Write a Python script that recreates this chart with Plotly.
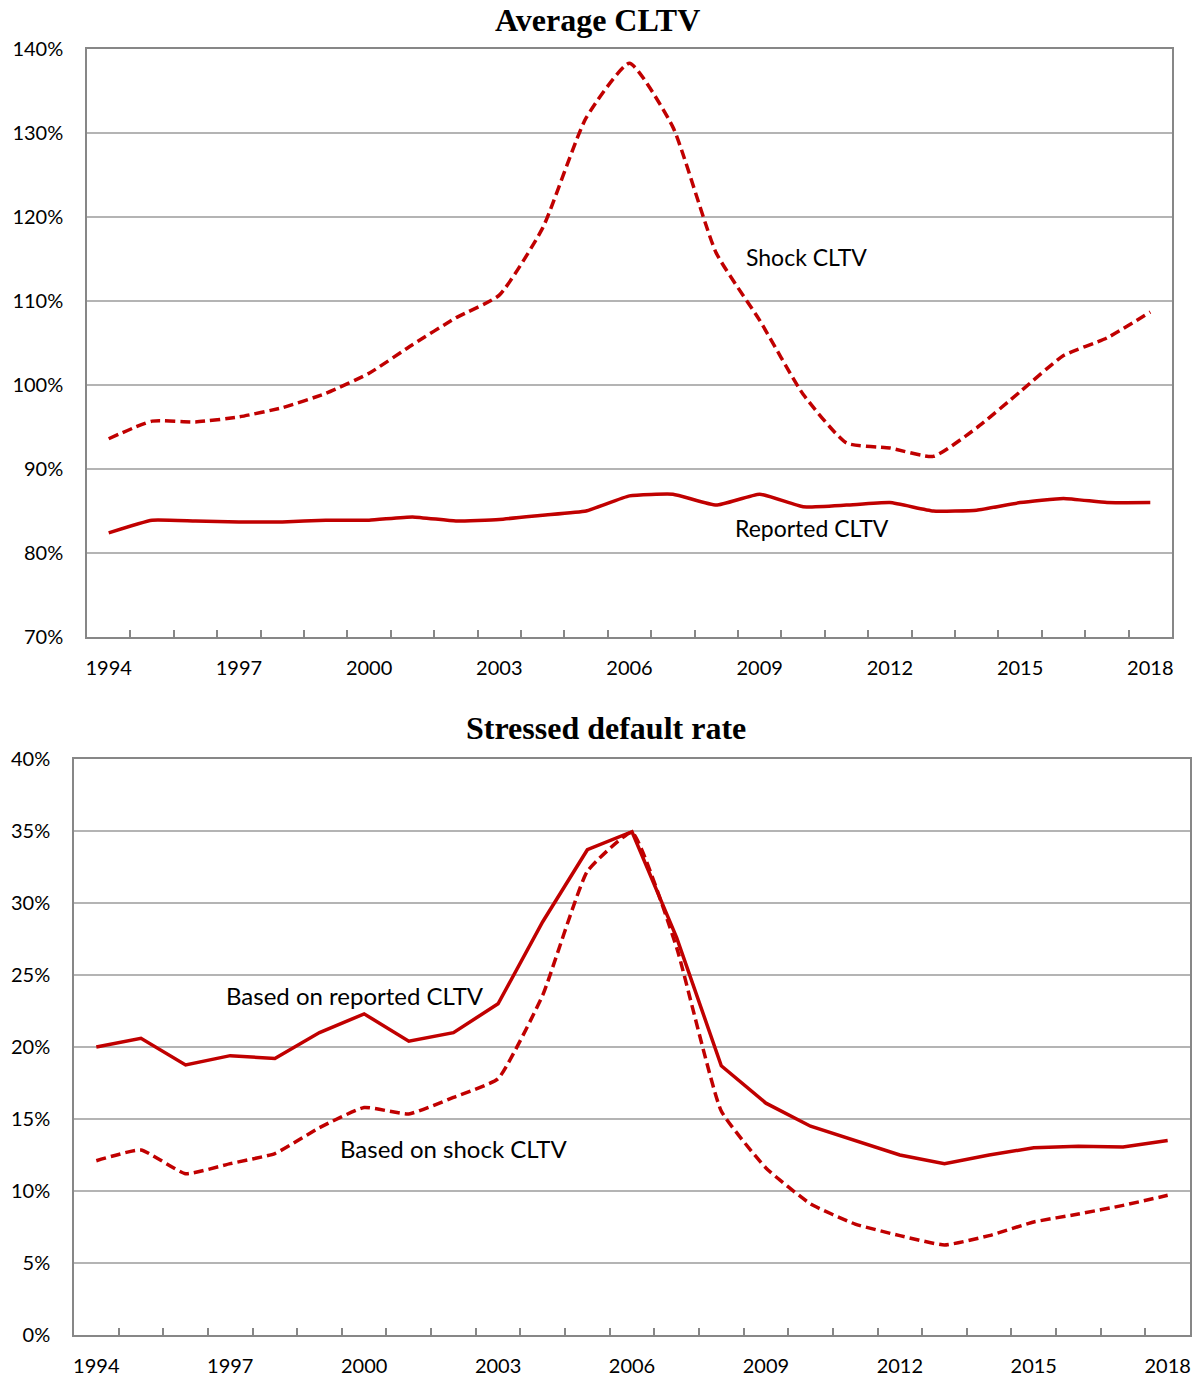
import plotly.graph_objects as go

years = list(range(1994, 2019))

shock_cltv = [93.6, 95.7, 95.6, 96.2, 97.3, 99.0, 101.4, 104.8, 108.0, 110.7,
              118.7, 131.8, 138.3, 130.7, 115.7, 107.7, 98.9, 93.1, 92.5, 91.5,
              94.9, 99.2, 103.5, 105.6, 108.7]
reported_cltv = [82.4, 83.9, 83.8, 83.7, 83.7, 83.9, 83.9, 84.3, 83.8, 84.0,
                 84.5, 85.0, 86.8, 87.0, 85.7, 87.0, 85.5, 85.7, 86.0, 85.0,
                 85.1, 86.0, 86.5, 86.0, 86.0]

default_reported = [20.0, 20.6, 18.75, 19.4, 19.2, 21.0, 22.3, 20.4, 21.0, 23.0,
                    28.7, 33.7, 34.95, 27.6, 18.7, 16.1, 14.5, 13.5, 12.5, 11.9,
                    12.5, 13.0, 13.1, 13.05, 13.5]
default_shock = [12.1, 12.85, 11.2, 11.9, 12.6, 14.4, 15.8, 15.35, 16.5, 17.8,
                 23.6, 32.2, 34.9, 26.9, 15.55, 11.6, 9.1, 7.7, 6.9, 6.25,
                 6.9, 7.85, 8.4, 9.0, 9.7]

label_years = years[::3]
top_yticks = [70, 80, 90, 100, 110, 120, 130, 140]
bot_yticks = [0, 5, 10, 15, 20, 25, 30, 35, 40]

RED = "#C00000"
FRAME = "#878787"
GRID = "#B4B4B4"
SANS = "Lato"
SERIF = "Liberation Serif"

W, H = 1197, 1378

fig = go.Figure()

fig.add_trace(go.Scatter(x=years, y=shock_cltv, mode="lines", xaxis="x", yaxis="y",
                         line=dict(color=RED, width=3.5, dash="10px,5px", shape="spline", smoothing=0.5),
                         showlegend=False))
fig.add_trace(go.Scatter(x=years, y=reported_cltv, mode="lines", xaxis="x", yaxis="y",
                         line=dict(color=RED, width=3.5, shape="spline", smoothing=0.4),
                         showlegend=False))
fig.add_trace(go.Scatter(x=years, y=default_reported, mode="lines", xaxis="x2", yaxis="y2",
                         line=dict(color=RED, width=3.5),
                         showlegend=False))
fig.add_trace(go.Scatter(x=years, y=default_shock, mode="lines", xaxis="x2", yaxis="y2",
                         line=dict(color=RED, width=3.5, dash="10px,5px", shape="spline", smoothing=0.4),
                         showlegend=False))

def xaxis(domain, anchor):
    return dict(domain=domain, anchor=anchor, range=[years[0] - 0.5, years[-1] + 0.5],
                automargin=False,
                tickmode="array", tickvals=label_years, ticktext=[str(y) for y in label_years],
                ticks="", showgrid=False, zeroline=False,
                showline=True, mirror=True, linecolor=FRAME, linewidth=1.5,
                ticklabelstandoff=12,
                tickfont=dict(family=SANS, size=20, color="black"),
                minor=dict(tickmode="array", tickvals=[y + 0.5 for y in years[:-1]],
                           ticks="inside", ticklen=7, tickcolor=FRAME, tickwidth=1.5,
                           showgrid=False))

def yaxis(domain, anchor, rng, vals):
    return dict(domain=domain, anchor=anchor, range=rng, tickmode="array", tickvals=vals,
                automargin=False,
                ticktext=[f"{v}%" for v in vals], ticks="",
                showgrid=True, gridcolor=GRID, gridwidth=1.5, zeroline=False,
                showline=True, mirror=True, linecolor=FRAME, linewidth=1.5,
                ticklabelstandoff=18,
                tickfont=dict(family=SANS, size=20, color="black"))

fig.update_layout(
    width=W, height=H, autosize=False,
    margin=dict(l=0, r=0, t=0, b=0),
    paper_bgcolor="white", plot_bgcolor="white",
    xaxis=xaxis([87 / W, 1172 / W], "y"),
    yaxis=yaxis([1 - 637 / H, 1 - 49 / H], "x", [70, 140], top_yticks),
    xaxis2=xaxis([74 / W, 1190 / W], "y2"),
    yaxis2=yaxis([1 - 1335 / H, 1 - 759 / H], "x2", [0, 40], bot_yticks),
)

def paper_text(text, x, y, font, size, bold=False):
    fig.add_annotation(text=f"<b>{text}</b>" if bold else text,
                       x=x / W, y=1 - y / H, xref="paper", yref="paper",
                       showarrow=False, xanchor="center", yanchor="middle",
                       font=dict(family=font, size=size, color="black"))

paper_text("Average CLTV", 597, 20, SERIF, 32, bold=True)
paper_text("Stressed default rate", 606, 728, SERIF, 32, bold=True)
paper_text("Shock CLTV", 806, 257, SANS, 23)
paper_text("Reported CLTV", 812, 528, SANS, 23)
paper_text("Based on reported CLTV", 355, 995, SANS, 24)
paper_text("Based on shock CLTV", 454, 1148, SANS, 24)

fig.write_html("out.html", config={"displayModeBar": False},
               post_script="document.body.style.margin='0';")
